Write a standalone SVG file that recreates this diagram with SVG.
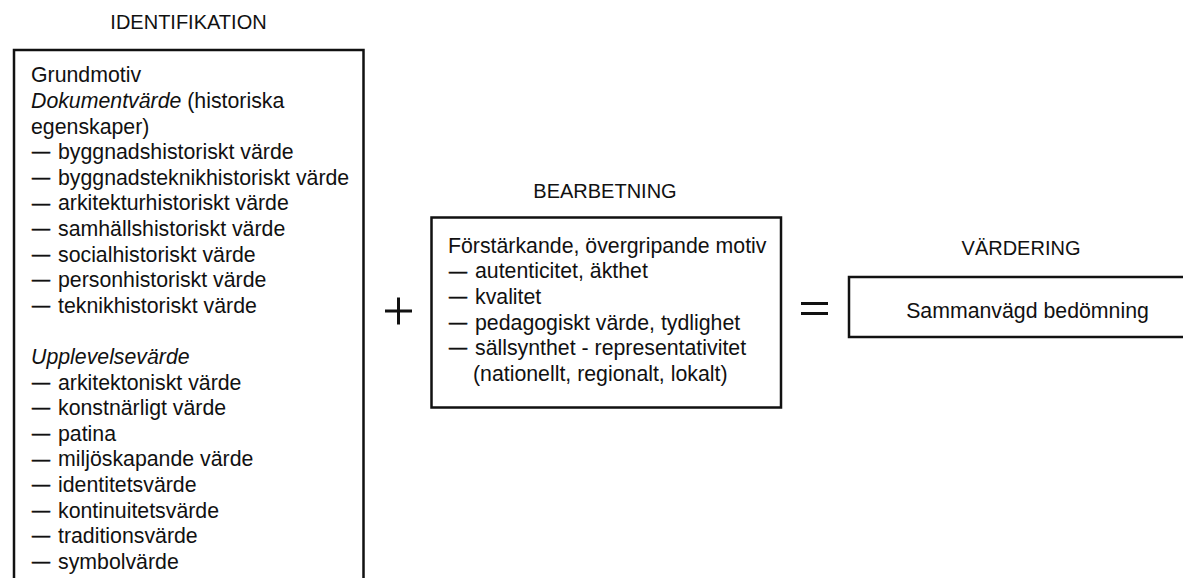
<svg xmlns="http://www.w3.org/2000/svg" width="1183" height="578" viewBox="0 0 1183 578">
<style>
text{font-family:"Liberation Sans",Arial,Helvetica,sans-serif;fill:#111;}
.title{font-size:20px;text-anchor:middle;}
.body{font-size:21.3px;}
.it{font-style:italic;}
.d{font-size:18px;stroke:#111;stroke-width:0.6;}
.box{fill:#fff;stroke:#111;stroke-width:2.5;}
.op{stroke:#111;stroke-width:3;fill:none;}
</style>
<rect width="1183" height="578" fill="#fff"/>
<g id="identifikation">
<text class="title" x="188.5" y="29.3">IDENTIFIKATION</text>
<rect class="box" x="14" y="50" width="349.5" height="560"/>
<text class="body">
<tspan x="31" y="82.3">Grundmotiv</tspan>
<tspan x="31" y="107.9"><tspan class="it">Dokumentvärde</tspan> (historiska</tspan>
<tspan x="31" y="133.5">egenskaper)</tspan>
<tspan class="d" x="32" y="157.4">—</tspan><tspan x="58" y="159.1">byggnadshistoriskt värde</tspan>
<tspan class="d" x="32" y="183">—</tspan><tspan x="58" y="184.7">byggnadsteknikhistoriskt värde</tspan>
<tspan class="d" x="32" y="208.6">—</tspan><tspan x="58" y="210.3">arkitekturhistoriskt värde</tspan>
<tspan class="d" x="32" y="234.2">—</tspan><tspan x="58" y="235.9">samhällshistoriskt värde</tspan>
<tspan class="d" x="32" y="259.8">—</tspan><tspan x="58" y="261.5">socialhistoriskt värde</tspan>
<tspan class="d" x="32" y="285.4">—</tspan><tspan x="58" y="287.1">personhistoriskt värde</tspan>
<tspan class="d" x="32" y="311">—</tspan><tspan x="58" y="312.7">teknikhistoriskt värde</tspan>
<tspan x="31" y="363.9" class="it">Upplevelsevärde</tspan>
<tspan class="d" x="32" y="387.8">—</tspan><tspan x="58" y="389.5">arkitektoniskt värde</tspan>
<tspan class="d" x="32" y="413.4">—</tspan><tspan x="58" y="415.1">konstnärligt värde</tspan>
<tspan class="d" x="32" y="439">—</tspan><tspan x="58" y="440.7">patina</tspan>
<tspan class="d" x="32" y="464.6">—</tspan><tspan x="58" y="466.3">miljöskapande värde</tspan>
<tspan class="d" x="32" y="490.2">—</tspan><tspan x="58" y="491.9">identitetsvärde</tspan>
<tspan class="d" x="32" y="515.8">—</tspan><tspan x="58" y="517.5">kontinuitetsvärde</tspan>
<tspan class="d" x="32" y="541.4">—</tspan><tspan x="58" y="543.1">traditionsvärde</tspan>
<tspan class="d" x="32" y="567">—</tspan><tspan x="58" y="568.7">symbolvärde</tspan>
</text>
</g>
<g id="bearbetning">
<text class="title" x="605" y="198.3">BEARBETNING</text>
<rect class="box" x="431.5" y="217.5" width="349.5" height="190"/>
<text class="body">
<tspan x="448" y="252.7">Förstärkande, övergripande motiv</tspan>
<tspan class="d" x="449" y="276.6">—</tspan><tspan x="475" y="278.3">autenticitet, äkthet</tspan>
<tspan class="d" x="449" y="302.2">—</tspan><tspan x="475" y="303.9">kvalitet</tspan>
<tspan class="d" x="449" y="327.8">—</tspan><tspan x="475" y="329.5">pedagogiskt värde, tydlighet</tspan>
<tspan class="d" x="449" y="353.4">—</tspan><tspan x="475" y="355.1">sällsynthet - representativitet</tspan>
<tspan x="473" y="380.7">(nationellt, regionalt, lokalt)</tspan>
</text>
</g>
<g id="vardering">
<text class="title" x="1021" y="255">VÄRDERING</text>
<rect class="box" x="849" y="277" width="350" height="60"/>
<text class="body" x="1027.5" y="317.5" text-anchor="middle">Sammanvägd bedömning</text>
</g>
<g id="connectors">
<path class="op" d="M385 311H412M398.5 297.5V324.5"/>
<path class="op" d="M801 303.5H828M801 313.5H828" stroke-width="3.5"/>
</g>
</svg>
